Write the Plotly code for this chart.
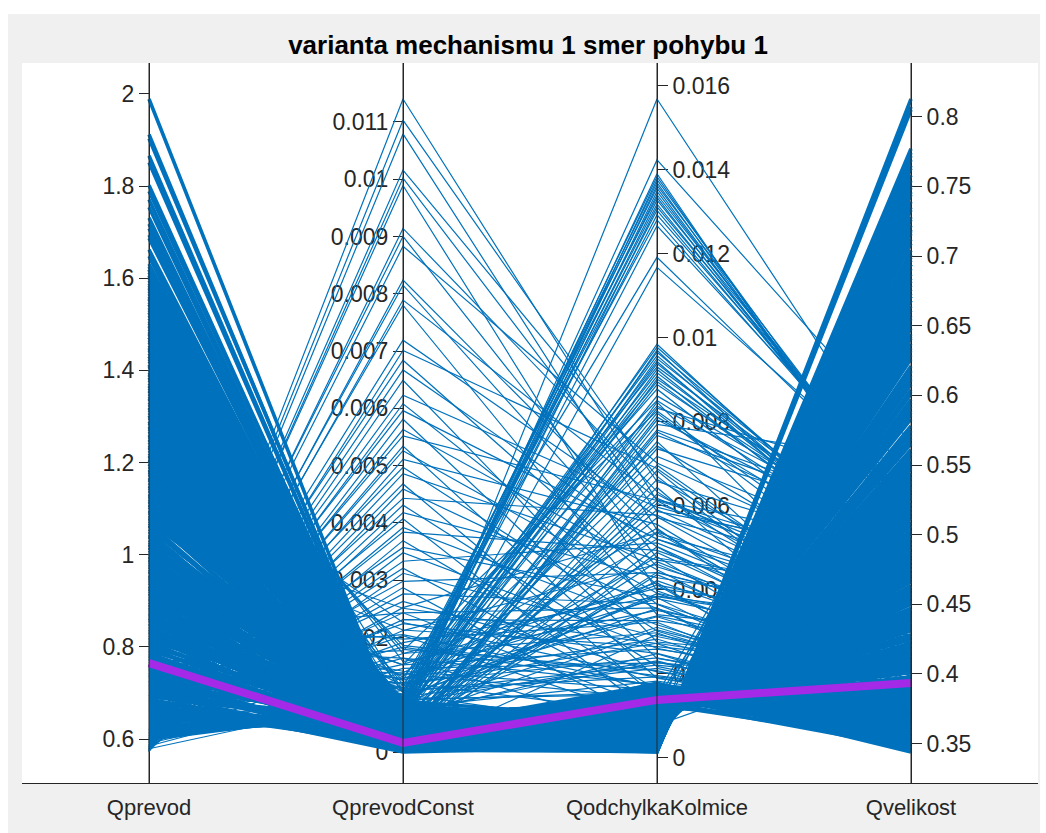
import plotly.graph_objects as go

# ---------------- data ----------------
categories = ["Qprevod", "QprevodConst", "QodchylkaKolmice", "Qvelikost"]
title_text = "varianta mechanismu 1 smer pohybu 1"
tick_values = [
    [0.6, 0.8, 1.0, 1.2, 1.4, 1.6, 1.8, 2.0],
    [0, 0.001, 0.002, 0.003, 0.004, 0.005, 0.006, 0.007, 0.008, 0.009, 0.01, 0.011],
    [0, 0.002, 0.004, 0.006, 0.008, 0.01, 0.012, 0.014, 0.016],
    [0.35, 0.4, 0.45, 0.5, 0.55, 0.6, 0.65, 0.7, 0.75, 0.8],
]

qprevod = [
    # top lines
    1.989, 1.912, 1.903, 1.866, 1.851, 1.802, 1.789, 1.771, 1.754, 1.731,
    # main body
    0.600, 0.605, 0.612, 0.618, 0.623, 0.629, 0.634, 0.641, 0.647, 0.652,
    0.658, 0.664, 0.669, 0.676, 0.681, 0.687, 0.693, 0.698, 0.704, 0.711,
    0.716, 0.722, 0.727, 0.734, 0.739, 0.745, 0.751, 0.757, 0.762, 0.769,
    0.774, 0.780, 0.786, 0.791, 0.798, 0.803, 0.809, 0.815, 0.821, 0.826,
    0.833, 0.838, 0.844, 0.850, 0.857, 0.862, 0.868, 0.874, 0.879, 0.886,
    0.891, 0.897, 0.903, 0.910, 0.915, 0.921, 0.927, 0.932, 0.939, 0.944,
    0.950, 0.956, 0.962, 0.968, 0.973, 0.980, 0.985, 0.991, 0.997, 1.004,
    1.009, 1.015, 1.021, 1.027, 1.032, 1.039, 1.044, 1.050, 1.056, 1.062,
    1.068, 1.073, 1.080, 1.085, 1.091, 1.097, 1.103, 1.109, 1.114, 1.121,
    1.126, 1.132, 1.139, 1.144, 1.150, 1.156, 1.162, 1.167, 1.174, 1.179,
    1.185, 1.191, 1.197, 1.203, 1.208, 1.215, 1.220, 1.226, 1.232, 1.238,
    1.244, 1.249, 1.256, 1.261, 1.267, 1.273, 1.279, 1.285, 1.290, 1.297,
    1.302, 1.308, 1.314, 1.320, 1.326, 1.331, 1.338, 1.343, 1.349, 1.355,
    1.361, 1.367, 1.372, 1.379, 1.384, 1.390, 1.396, 1.402, 1.408, 1.413,
    1.420, 1.425, 1.431, 1.437, 1.443, 1.449, 1.454, 1.461, 1.466, 1.472,
    1.478, 1.484, 1.490, 1.495, 1.502, 1.507, 1.513, 1.519, 1.525, 1.531,
    1.536, 1.543, 1.548, 1.554, 1.560, 1.566, 1.572, 1.577, 1.584, 1.589,
    1.595, 1.601, 1.607, 1.613, 1.618, 1.625, 1.631, 1.662, 1.694, 1.718,
    # main body, lower Qvelikost part
    0.667, 1.148, 0.883, 1.412, 0.729, 1.276, 0.995, 1.557, 0.812, 1.064,
    1.339, 0.754, 1.205, 0.931, 1.648, 0.697, 1.117, 0.859, 1.481, 1.023,
    0.783, 1.392, 0.964, 1.259, 0.708, 1.526, 0.838, 1.183, 1.605, 0.906,
    1.094, 0.737, 1.447, 0.871, 1.318, 1.002, 0.684, 1.234, 0.948, 1.579,
    0.819, 1.366, 1.041, 0.763, 1.497, 0.925, 1.165, 0.692, 1.289, 0.851,
    1.431, 0.976, 0.719, 1.213, 0.892, 1.543, 1.078, 0.794, 1.356, 0.641,
    1.128, 0.863, 1.687, 0.742, 1.016, 1.302, 0.917, 1.472, 0.776, 1.197,
    0.672, 1.251, 0.988, 1.619, 0.831, 1.107, 0.726, 1.384, 0.954, 1.708,
    # high QprevodConst
    0.572, 0.578, 0.575, 0.583, 0.579, 0.587, 0.576, 0.592, 0.581, 0.574,
    0.589, 0.577, 0.596, 0.584, 0.573, 0.601, 0.586, 0.579, 0.594, 0.582,
    0.607, 0.575, 0.591, 0.613, 0.584, 0.598, 0.578, 0.621, 0.588, 0.603,
    0.574, 0.617, 0.593, 0.582, 0.626, 0.599, 0.611, 0.577, 0.632, 0.586,
    0.604, 0.619, 0.581, 0.638, 0.596, 0.612, 0.645, 0.585, 0.623, 0.608,
    0.651, 0.592, 0.634, 0.615, 0.657, 0.602, 0.628, 0.641, 0.597, 0.648,
    0.585, 0.655, 0.591, 0.606, 0.579, 0.624, 0.598, 0.609, 0.653, 0.612,
    # bundle near 0.013-0.014
    1.143, 0.884, 1.276, 0.957, 1.392, 0.811, 1.068, 1.517, 0.928, 1.205,
    0.776, 1.338, 1.021, 1.463, 0.862, 1.159, 1.584, 0.993, 1.241, 0.847,
    # bundle near 0.009-0.010
    0.962, 1.317, 0.798, 1.104, 1.452, 0.876, 1.228, 0.739, 1.381, 1.047,
    0.913, 1.566, 1.183, 0.824, 1.295, 1.011, 1.426, 0.943, 1.132, 0.768,
    # middle spread
    0.873, 1.214, 0.736, 1.462, 0.991, 0.802, 1.337, 1.085, 0.758, 1.548,
    0.917, 1.263, 1.029, 0.781, 1.401, 0.846, 1.612, 0.954, 1.176, 0.722,
    1.358, 0.895, 1.503, 0.767, 1.118, 0.826, 1.285, 1.047, 0.941, 1.434,
    0.789, 1.571, 0.907, 1.236, 0.748, 1.382, 0.866, 1.154, 1.009, 0.815,
    1.193, 0.854, 1.326, 1.642, 0.975, 0.731, 1.417, 0.897, 1.268, 1.073,
    0.743, 1.487, 0.932, 1.131, 0.806, 1.059, 1.354, 0.884, 1.219, 0.963,
]

qprevod_const = [
    # top lines
    0.00018, 0.00015, 0.00021, 0.00012, 0.00016, 0.00010, 0.00019, 0.00008, 0.00013, 0.00017,
    # main body
    0.00078, 0.00071, 0.00064, 0.00069, 0.00052, 0.00058, 0.00044, 0.00049, 0.00031, 0.00036,
    0.00024, 0.00013, 0.00041, 0.00006, 0.00028, 0.00000, 0.00055, 0.00011, 0.00034, 0.00019,
    0.00008, 0.00047, 0.00015, 0.00062, 0.00003, 0.00026, 0.00039, 0.00012, 0.00071, 0.00021,
    0.00033, 0.00005, 0.00017, 0.00058, 0.00009, 0.00044, 0.00024, 0.00083, 0.00014, 0.00037,
    0.00019, 0.00066, 0.00004, 0.00029, 0.00051, 0.00011, 0.00036, 0.00022, 0.00075, 0.00007,
    0.00042, 0.00016, 0.00027, 0.00088, 0.00013, 0.00035, 0.00003, 0.00057, 0.00021, 0.00046,
    0.00010, 0.00031, 0.00068, 0.00018, 0.00039, 0.00006, 0.00025, 0.00053, 0.00014, 0.00079,
    0.00028, 0.00009, 0.00044, 0.00020, 0.00061, 0.00012, 0.00034, 0.00002, 0.00048, 0.00023,
    0.00016, 0.00072, 0.00026, 0.00008, 0.00038, 0.00055, 0.00013, 0.00030, 0.00085, 0.00019,
    0.00041, 0.00011, 0.00024, 0.00064, 0.00005, 0.00033, 0.00017, 0.00049, 0.00027, 0.00009,
    0.00036, 0.00058, 0.00014, 0.00022, 0.00070, 0.00007, 0.00031, 0.00045, 0.00018, 0.00026,
    0.00012, 0.00039, 0.00067, 0.00020, 0.00004, 0.00052, 0.00029, 0.00015, 0.00034, 0.00076,
    0.00023, 0.00009, 0.00046, 0.00017, 0.00060, 0.00028, 0.00011, 0.00040, 0.00021, 0.00054,
    0.00014, 0.00032, 0.00006, 0.00048, 0.00025, 0.00081, 0.00016, 0.00037, 0.00010, 0.00029,
    0.00043, 0.00019, 0.00063, 0.00008, 0.00030, 0.00013, 0.00050, 0.00024, 0.00035, 0.00017,
    0.00026, 0.00071, 0.00012, 0.00038, 0.00021, 0.00005, 0.00044, 0.00015, 0.00059, 0.00031,
    0.00018, 0.00036, 0.00009, 0.00027, 0.00047, 0.00014, 0.00022, 0.00065, 0.00011, 0.00033,
    0.00024, 0.00015, 0.00042, 0.00020, 0.00030, 0.00012, 0.00026, 0.00018, 0.00014, 0.00021,
    # main body, lower Qvelikost part
    0.00018, 0.00042, 0.00011, 0.00027, 0.00063, 0.00005, 0.00036, 0.00019, 0.00074, 0.00009,
    0.00031, 0.00014, 0.00056, 0.00022, 0.00012, 0.00047, 0.00003, 0.00068, 0.00025, 0.00039,
    0.00016, 0.00051, 0.00008, 0.00034, 0.00081, 0.00013, 0.00044, 0.00021, 0.00010, 0.00059,
    0.00027, 0.00066, 0.00015, 0.00038, 0.00006, 0.00053, 0.00024, 0.00017, 0.00072, 0.00011,
    0.00049, 0.00020, 0.00033, 0.00007, 0.00014, 0.00061, 0.00028, 0.00043, 0.00009, 0.00035,
    0.00013, 0.00057, 0.00024, 0.00040, 0.00004, 0.00018, 0.00069, 0.00030, 0.00015, 0.00052,
    0.00037, 0.00010, 0.00019, 0.00046, 0.00026, 0.00008, 0.00062, 0.00016, 0.00032, 0.00021,
    0.00023, 0.00012, 0.00050, 0.00017, 0.00029, 0.00064, 0.00041, 0.00009, 0.00026, 0.00014,
    # high QprevodConst
    0.01140, 0.01103, 0.01079, 0.01016, 0.01002, 0.00989, 0.00914, 0.00900, 0.00883, 0.00824,
    0.00815, 0.00789, 0.00780, 0.00719, 0.00701, 0.00684, 0.00667, 0.00649, 0.00623, 0.00608,
    0.00596, 0.00581, 0.00563, 0.00552, 0.00534, 0.00526, 0.00511, 0.00497, 0.00486, 0.00468,
    0.00459, 0.00443, 0.00431, 0.00418, 0.00407, 0.00392, 0.00384, 0.00369, 0.00357, 0.00348,
    0.00333, 0.00321, 0.00312, 0.00298, 0.00287, 0.00276, 0.00263, 0.00252, 0.00243, 0.00231,
    0.00224, 0.00212, 0.00203, 0.00191, 0.00183, 0.00172, 0.00164, 0.00153, 0.00146, 0.00137,
    0.00129, 0.00121, 0.00116, 0.00108, 0.00101, 0.00097, 0.00092, 0.00086, 0.00081, 0.00076,
    # bundle near 0.013-0.014
    0.00037, 0.00061, 0.00072, 0.00088, 0.00064, 0.00095, 0.00079, 0.00103, 0.00069, 0.00084,
    0.00112, 0.00076, 0.00091, 0.00058, 0.00099, 0.00083, 0.00107, 0.00067, 0.00125, 0.00048,
    # bundle near 0.009-0.010
    0.00071, 0.00093, 0.00058, 0.00082, 0.00104, 0.00066, 0.00089, 0.00075, 0.00118, 0.00062,
    0.00097, 0.00079, 0.00054, 0.00108, 0.00086, 0.00131, 0.00069, 0.00152, 0.00094, 0.00177,
    # middle spread
    0.00012, 0.00045, 0.00121, 0.00027, 0.00083, 0.00164, 0.00009, 0.00056, 0.00138, 0.00031,
    0.00097, 0.00018, 0.00066, 0.00205, 0.00041, 0.00112, 0.00007, 0.00152, 0.00024, 0.00078,
    0.00186, 0.00035, 0.00014, 0.00129, 0.00059, 0.00243, 0.00091, 0.00021, 0.00048, 0.00172,
    0.00062, 0.00011, 0.00134, 0.00226, 0.00039, 0.00087, 0.00197, 0.00016, 0.00105, 0.00053,
    0.00028, 0.00141, 0.00072, 0.00004, 0.00117, 0.00036, 0.00179, 0.00094, 0.00019, 0.00251,
    0.00043, 0.00158, 0.00077, 0.00013, 0.00101, 0.00213, 0.00033, 0.00125, 0.00068, 0.00022,
]

qodchylka_kolmice = [
    # top lines
    0.00092, 0.00041, 0.00118, 0.00066, 0.00149, 0.00031, 0.00104, 0.00058, 0.00127, 0.00036,
    # main body
    0.00015, 0.00092, 0.00041, 0.00128, 0.00067, 0.00023, 0.00151, 0.00084, 0.00036, 0.00112,
    0.00058, 0.00019, 0.00133, 0.00047, 0.00101, 0.00029, 0.00076, 0.00164, 0.00052, 0.00017,
    0.00088, 0.00033, 0.00121, 0.00062, 0.00016, 0.00143, 0.00044, 0.00097, 0.00071, 0.00026,
    0.00109, 0.00054, 0.00021, 0.00136, 0.00079, 0.00038, 0.00172, 0.00065, 0.00094, 0.00018,
    0.00048, 0.00117, 0.00031, 0.00083, 0.00156, 0.00024, 0.00069, 0.00104, 0.00042, 0.00014,
    0.00126, 0.00061, 0.00035, 0.00091, 0.00019, 0.00147, 0.00056, 0.00078, 0.00027, 0.00114,
    0.00039, 0.00098, 0.00022, 0.00139, 0.00073, 0.00050, 0.00162, 0.00086, 0.00017, 0.00064,
    0.00107, 0.00045, 0.00131, 0.00028, 0.00081, 0.00059, 0.00015, 0.00118, 0.00036, 0.00095,
    0.00068, 0.00020, 0.00153, 0.00051, 0.00089, 0.00033, 0.00124, 0.00074, 0.00043, 0.00178,
    0.00030, 0.00102, 0.00057, 0.00016, 0.00135, 0.00066, 0.00046, 0.00093, 0.00025, 0.00115,
    0.00082, 0.00037, 0.00144, 0.00061, 0.00019, 0.00099, 0.00053, 0.00127, 0.00032, 0.00071,
    0.00023, 0.00110, 0.00047, 0.00085, 0.00159, 0.00040, 0.00076, 0.00014, 0.00121, 0.00055,
    0.00096, 0.00029, 0.00063, 0.00141, 0.00044, 0.00087, 0.00018, 0.00106, 0.00070, 0.00035,
    0.00134, 0.00050, 0.00078, 0.00021, 0.00115, 0.00059, 0.00167, 0.00038, 0.00090, 0.00026,
    0.00067, 0.00042, 0.00103, 0.00016, 0.00080, 0.00129, 0.00034, 0.00057, 0.00147, 0.00092,
    0.00024, 0.00074, 0.00119, 0.00048, 0.00088, 0.00031, 0.00138, 0.00062, 0.00019, 0.00101,
    0.00054, 0.00112, 0.00036, 0.00083, 0.00152, 0.00045, 0.00068, 0.00027, 0.00097, 0.00130,
    0.00041, 0.00079, 0.00022, 0.00105, 0.00060, 0.00142, 0.00033, 0.00086, 0.00049, 0.00118,
    # main body, lower Qvelikost part
    0.00122, 0.00088, 0.00145, 0.00067, 0.00109, 0.00158, 0.00076, 0.00131, 0.00095, 0.00171,
    0.00101, 0.00139, 0.00083, 0.00116, 0.00062, 0.00149, 0.00092, 0.00127, 0.00071, 0.00176,
    0.00134, 0.00079, 0.00113, 0.00155, 0.00087, 0.00124, 0.00064, 0.00098, 0.00143, 0.00106,
    0.00069, 0.00118, 0.00161, 0.00090, 0.00132, 0.00074, 0.00104, 0.00146, 0.00081, 0.00125,
    0.00111, 0.00150, 0.00072, 0.00097, 0.00137, 0.00085, 0.00166, 0.00120, 0.00066, 0.00103,
    0.00089, 0.00128, 0.00060, 0.00115, 0.00153, 0.00078, 0.00099, 0.00140, 0.00070, 0.00119,
    0.00146, 0.00082, 0.00108, 0.00063, 0.00135, 0.00094, 0.00121, 0.00075, 0.00157, 0.00100,
    0.00058, 0.00113, 0.00087, 0.00144, 0.00068, 0.00126, 0.00092, 0.00160, 0.00077, 0.00133,
    # high QprevodConst
    0.00612, 0.00658, 0.00543, 0.00671, 0.00587, 0.00398, 0.00634, 0.00476, 0.00702, 0.00529,
    0.00455, 0.00618, 0.00341, 0.00574, 0.00689, 0.00412, 0.00503, 0.00276, 0.00597, 0.00366,
    0.00521, 0.00237, 0.00448, 0.00613, 0.00189, 0.00392, 0.00556, 0.00302, 0.00471, 0.00144,
    0.00355, 0.00578, 0.00218, 0.00429, 0.00096, 0.00317, 0.00494, 0.00163, 0.00382, 0.00261,
    0.00512, 0.00133, 0.00289, 0.00441, 0.00078, 0.00367, 0.00205, 0.00536, 0.00118, 0.00327,
    0.00249, 0.00461, 0.00091, 0.00384, 0.00172, 0.00298, 0.00057, 0.00417, 0.00226, 0.00141,
    0.00338, 0.00105, 0.00273, 0.00193, 0.00064, 0.00356, 0.00152, 0.00231, 0.00087, 0.00311,
    # bundle near 0.013-0.014
    0.01569, 0.01424, 0.01391, 0.01384, 0.01377, 0.01370, 0.01363, 0.01357, 0.01349, 0.01341,
    0.01335, 0.01328, 0.01319, 0.01312, 0.01304, 0.01293, 0.01281, 0.01267, 0.01192, 0.01168,
    # bundle near 0.009-0.010
    0.00985, 0.00978, 0.00971, 0.00966, 0.00958, 0.00951, 0.00944, 0.00939, 0.00931, 0.00925,
    0.00917, 0.00909, 0.00902, 0.00896, 0.00889, 0.00878, 0.00862, 0.00851, 0.00838, 0.00826,
    # middle spread
    0.00812, 0.00467, 0.00238, 0.00753, 0.00391, 0.00174, 0.00628, 0.00305, 0.00547, 0.00781,
    0.00213, 0.00684, 0.00422, 0.00169, 0.00591, 0.00336, 0.00847, 0.00259, 0.00503, 0.00718,
    0.00196, 0.00442, 0.00776, 0.00283, 0.00614, 0.00357, 0.00157, 0.00538, 0.00821, 0.00404,
    0.00248, 0.00663, 0.00379, 0.00191, 0.00736, 0.00479, 0.00323, 0.00805, 0.00221, 0.00572,
    0.00436, 0.00162, 0.00697, 0.00294, 0.00521, 0.00768, 0.00208, 0.00385, 0.00644, 0.00272,
    0.00833, 0.00351, 0.00183, 0.00489, 0.00743, 0.00265, 0.00606, 0.00412, 0.00228, 0.00794,
]

qvelikost = [
    # top lines
    0.452, 0.671, 0.418, 0.588, 0.372, 0.719, 0.437, 0.612, 0.395, 0.694,
    # main body
    0.772, 0.463, 0.618, 0.351, 0.547, 0.701, 0.389, 0.512, 0.655, 0.428,
    0.583, 0.744, 0.372, 0.629, 0.441, 0.687, 0.494, 0.357, 0.561, 0.758,
    0.476, 0.668, 0.398, 0.534, 0.807, 0.365, 0.604, 0.453, 0.519, 0.712,
    0.416, 0.575, 0.733, 0.347, 0.501, 0.642, 0.378, 0.538, 0.447, 0.765,
    0.597, 0.409, 0.679, 0.486, 0.362, 0.726, 0.553, 0.435, 0.634, 0.8127,
    0.383, 0.528, 0.648, 0.458, 0.749, 0.353, 0.569, 0.492, 0.694, 0.421,
    0.661, 0.439, 0.718, 0.369, 0.507, 0.589, 0.344, 0.471, 0.777, 0.541,
    0.403, 0.611, 0.386, 0.684, 0.482, 0.556, 0.763, 0.425, 0.641, 0.451,
    0.522, 0.739, 0.359, 0.592, 0.467, 0.673, 0.394, 0.498, 0.621, 0.349,
    0.697, 0.432, 0.566, 0.769, 0.374, 0.531, 0.603, 0.444, 0.709, 0.413,
    0.488, 0.651, 0.361, 0.544, 0.754, 0.456, 0.578, 0.391, 0.676, 0.514,
    0.728, 0.419, 0.614, 0.473, 0.355, 0.637, 0.503, 0.805, 0.401, 0.572,
    0.446, 0.691, 0.537, 0.367, 0.608, 0.479, 0.746, 0.427, 0.516, 0.664,
    0.381, 0.586, 0.495, 0.722, 0.408, 0.559, 0.351, 0.644, 0.461, 0.704,
    0.526, 0.626, 0.437, 0.774, 0.484, 0.372, 0.671, 0.565, 0.363, 0.452,
    0.716, 0.509, 0.417, 0.601, 0.469, 0.682, 0.376, 0.549, 0.751, 0.434,
    0.574, 0.405, 0.657, 0.491, 0.358, 0.617, 0.533, 0.699, 0.443, 0.388,
    0.632, 0.498, 0.735, 0.422, 0.551, 0.366, 0.668, 0.475, 0.595, 0.411,
    # main body, lower Qvelikost part
    0.362, 0.481, 0.349, 0.529, 0.407, 0.371, 0.497, 0.385, 0.442, 0.356,
    0.428, 0.368, 0.466, 0.393, 0.548, 0.352, 0.455, 0.379, 0.512, 0.347,
    0.376, 0.487, 0.414, 0.359, 0.473, 0.397, 0.535, 0.438, 0.364, 0.421,
    0.523, 0.402, 0.354, 0.459, 0.381, 0.506, 0.433, 0.367, 0.478, 0.389,
    0.411, 0.358, 0.517, 0.447, 0.374, 0.463, 0.346, 0.395, 0.539, 0.431,
    0.469, 0.383, 0.558, 0.418, 0.361, 0.491, 0.440, 0.372, 0.520, 0.404,
    0.353, 0.476, 0.425, 0.542, 0.378, 0.450, 0.396, 0.501, 0.350, 0.436,
    0.571, 0.409, 0.472, 0.366, 0.527, 0.387, 0.457, 0.357, 0.494, 0.380,
    # high QprevodConst
    0.433, 0.483, 0.394, 0.398, 0.481, 0.396, 0.412, 0.456, 0.469, 0.453,
    0.422, 0.453, 0.424, 0.412, 0.419, 0.427, 0.409, 0.407, 0.474, 0.377,
    0.433, 0.384, 0.383, 0.470, 0.378, 0.422, 0.398, 0.376, 0.455, 0.360,
    0.401, 0.432, 0.369, 0.442, 0.681, 0.380, 0.424, 0.370, 0.363, 0.382,
    0.421, 0.652, 0.390, 0.427, 0.427, 0.395, 0.383, 0.401, 0.709, 0.411,
    0.369, 0.406, 0.739, 0.428, 0.371, 0.365, 0.615, 0.355, 0.394, 0.658,
    0.405, 0.423, 0.395, 0.379, 0.548, 0.365, 0.688, 0.363, 0.458, 0.378,
    # bundle near 0.013-0.014
    0.536, 0.566, 0.492, 0.497, 0.505, 0.499, 0.511, 0.503, 0.508, 0.514,
    0.506, 0.517, 0.512, 0.519, 0.515, 0.521, 0.518, 0.524, 0.522, 0.531,
    # bundle near 0.009-0.010
    0.468, 0.474, 0.461, 0.479, 0.471, 0.484, 0.466, 0.477, 0.488, 0.473,
    0.482, 0.469, 0.491, 0.476, 0.486, 0.463, 0.494, 0.481, 0.497, 0.459,
    # middle spread
    0.475, 0.407, 0.375, 0.401, 0.402, 0.365, 0.437, 0.386, 0.376, 0.511,
    0.367, 0.399, 0.403, 0.372, 0.435, 0.386, 0.412, 0.391, 0.394, 0.483,
    0.376, 0.427, 0.491, 0.370, 0.488, 0.355, 0.373, 0.438, 0.450, 0.435,
    0.359, 0.440, 0.417, 0.364, 0.506, 0.374, 0.366, 0.491, 0.388, 0.466,
    0.398, 0.370, 0.422, 0.388, 0.442, 0.508, 0.356, 0.434, 0.378, 0.361,
    0.536, 0.409, 0.368, 0.404, 0.454, 0.401, 0.453, 0.363, 0.372, 0.552,
]

# highlighted (magenta) row
highlight = [0.765, 0.00016, 0.00138, 0.3935]

# rows 0..269 (top lines + main body) stand for the very dense bulk of the
# original data set and are drawn thicker so that they fill like the original
N_DENSE = 270

# ---------------- figure ----------------
columns = [qprevod, qprevod_const, qodchylka_kolmice, qvelikost]
n_rows = len(qprevod)
assert all(len(c) == n_rows for c in columns), [len(c) for c in columns]

INK = "#262626"
BLUE = "#0072BD"
MAGENTA = "#A52AE8"
FONT = "Liberation Sans, Arial, Helvetica, sans-serif"

W, H = 1046, 833
PLOT_L, PLOT_R, PLOT_T, PLOT_B = 22, 1038, 63, 783
PW, PH = PLOT_R - PLOT_L, PLOT_B - PLOT_T
# fraction of ruler height left free below data min / above data max
PAD_LO, PAD_HI = 31 / 653, 36 / 653

lo = [min(c) for c in columns]
hi = [max(c) for c in columns]


def scaled(k, v):
    return (v - lo[k]) / (hi[k] - lo[k])


def polylines(rows):
    xs, ys = [], []
    for i in rows:
        for k in range(4):
            xs.append(k)
            ys.append(scaled(k, columns[k][i]))
        xs.append(None)
        ys.append(None)
    return xs, ys


fig = go.Figure()
dx, dy = polylines(range(N_DENSE))
fig.add_trace(go.Scatter(x=dx, y=dy, mode="lines",
                         line=dict(color=BLUE, width=3.6),
                         hoverinfo="skip", showlegend=False))
sx, sy = polylines(range(N_DENSE, n_rows))
fig.add_trace(go.Scatter(x=sx, y=sy, mode="lines",
                         line=dict(color=BLUE, width=1.2),
                         hoverinfo="skip", showlegend=False))
fig.add_trace(go.Scatter(x=list(range(4)),
                         y=[scaled(k, highlight[k]) for k in range(4)],
                         mode="lines", line=dict(color=MAGENTA, width=8),
                         hoverinfo="skip", showlegend=False))

# one invisible trace per ruler carries the raw values on that ruler's own scale
for k in range(4):
    fig.add_trace(go.Scatter(x=[k] * n_rows, y=columns[k], yaxis=f"y{k + 2}",
                             mode="markers", marker=dict(size=1, opacity=0),
                             hoverinfo="skip", showlegend=False))


def px_x(p):  # figure pixel -> paper x
    return (p - PLOT_L) / PW


def px_y(p):  # figure pixel -> paper y
    return (PLOT_B - p) / PH


layout = dict(
    width=W, height=H,
    margin=dict(l=PLOT_L, r=W - PLOT_R, t=PLOT_T, b=H - PLOT_B, pad=0),
    paper_bgcolor="#F0F0F0",
    plot_bgcolor="white",
    font=dict(family=FONT, color=INK),
    title=dict(text=f"<b>{title_text}</b>", x=px_x(528), xanchor="center",
               y=1 - 45 / H, yanchor="middle", xref="paper",
               font=dict(size=26, color="#000000", family=FONT)),
    xaxis=dict(range=[-0.5, 3.5], tickmode="array", tickvals=list(range(4)),
               ticktext=categories, ticks="", showline=True, linecolor=INK,
               linewidth=1, showgrid=False, zeroline=False,
               tickfont=dict(size=22, color=INK), ticklabelstandoff=5,
               fixedrange=True),
    yaxis=dict(range=[-PAD_LO, 1 + PAD_HI], visible=False, fixedrange=True),
    showlegend=False,
    shapes=[
        # white screenshot border around the grey figure
        dict(type="rect", xref="paper", yref="paper", x0=px_x(0), x1=px_x(W),
             y0=px_y(14), y1=px_y(0), fillcolor="white", line=dict(width=0),
             layer="above"),
        dict(type="rect", xref="paper", yref="paper", x0=px_x(0), x1=px_x(8),
             y0=px_y(H), y1=px_y(0), fillcolor="white", line=dict(width=0),
             layer="above"),
        dict(type="rect", xref="paper", yref="paper", x0=px_x(1040), x1=px_x(W),
             y0=px_y(H), y1=px_y(0), fillcolor="white", line=dict(width=0),
             layer="above"),
    ],
)

for k in range(4):
    span = hi[k] - lo[k]
    layout[f"yaxis{k + 2}"] = dict(
        overlaying="y", anchor="free", position=(k + 0.5) / 4,
        side="left" if k < 2 else "right",
        range=[lo[k] - PAD_LO * span, hi[k] + PAD_HI * span],
        tickmode="array", tickvals=tick_values[k],
        showline=True, linecolor=INK, linewidth=1,
        ticks="outside", ticklen=10, tickwidth=1, tickcolor=INK,
        tickfont=dict(size=23, color=INK),
        showgrid=False, zeroline=False, layer="below traces", fixedrange=True,
    )
    # ruler line drawn on top of the polylines
    layout["shapes"].append(dict(type="line", xref="x", yref="y domain",
                                 x0=k, x1=k, y0=0, y1=1,
                                 line=dict(color=INK, width=1), layer="above"))

fig.update_layout(**layout)
fig.write_html("out.html", config={"displayModeBar": False})
